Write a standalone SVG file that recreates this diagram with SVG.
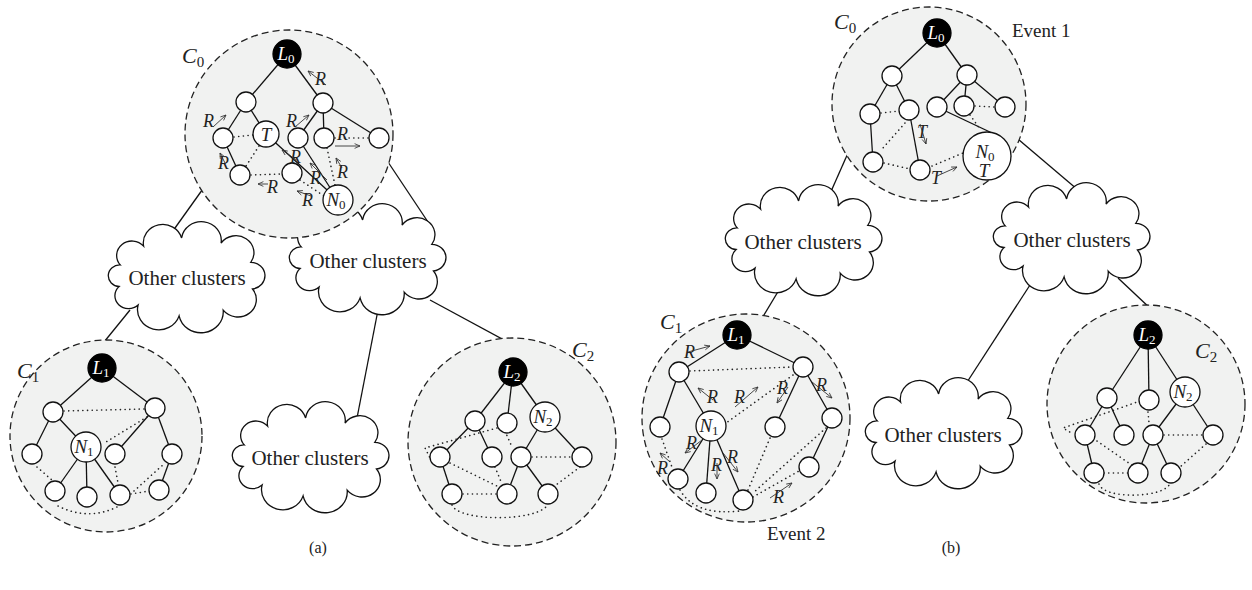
<svg xmlns="http://www.w3.org/2000/svg" xmlns:xlink="http://www.w3.org/1999/xlink" width="1252" height="590" viewBox="0 0 1252 590">
<style>
.clu{fill:#f1f2f1;stroke:#222;stroke-width:1.3;stroke-dasharray:7 4}
.e{stroke:#111;stroke-width:1.3;fill:none}
.d{stroke:#222;stroke-width:1.6;fill:none;stroke-dasharray:0.1 4.6;stroke-linecap:round}
.n{fill:#fff;stroke:#111;stroke-width:1.3}
.b{fill:#000;stroke:#000;stroke-width:1.3}
.cl{fill:#fff;stroke:#111;stroke-width:1.3}
.a{stroke:#333;stroke-width:0.9;fill:none;marker-end:url(#ah)}
text{font-family:"Liberation Serif",serif;fill:#222}
.it{font-style:italic;font-size:19px}
.c{font-style:italic;font-size:22px}
.cs{font-style:normal;font-size:15px}
.r{font-style:italic;font-size:18px}
.w{fill:#fff;font-style:italic;font-size:19px}
.sub{font-style:normal;font-size:13px}
.oc{font-size:21px;text-anchor:middle}
.ev{font-size:19px}
.cap{font-size:16px;text-anchor:middle}
.m{text-anchor:middle}
</style>
<defs>
<marker id="ah" viewBox="0 0 10 10" refX="9" refY="5" markerWidth="7.5" markerHeight="7.5" orient="auto"><path d="M1,1.5 L9,5 L1,8.5" fill="none" stroke="#333" stroke-width="1.2"/></marker>
<path id="cloud" d="M12.3,42.9 A15.3,14.5 0 0 1 35.6,24.1 A19.5,18.4 0 0 1 73.6,16 A19.9,18.8 0 0 1 113.1,21.1 A17.9,16.9 0 0 1 142.8,40.3 A14.2,13.4 0 0 1 144.5,67 A18.4,17.3 0 0 1 115.2,88.2 A22.3,21 0 0 1 71.1,93.9 A21.3,20.1 0 0 1 30.1,83.1 A13.7,12.9 0 0 1 11.1,64.5 A11.4,10.8 0 0 1 12.3,42.9 Z"/>
</defs>

<g id="connectors">
<line class="e" x1="210" y1="179" x2="165" y2="242"/>
<line class="e" x1="130" y1="310" x2="100" y2="347"/>
<line class="e" x1="382" y1="153" x2="432" y2="228"/>
<line class="e" x1="430" y1="300" x2="515" y2="346"/>
<line class="e" x1="378" y1="310" x2="357" y2="418"/>
<line class="e" x1="852" y1="144" x2="825" y2="205"/>
<line class="e" x1="782" y1="285" x2="758" y2="325"/>
<line class="e" x1="1012" y1="134" x2="1078" y2="190"/>
<line class="e" x1="1118" y1="278" x2="1152" y2="310"/>
<line class="e" x1="1030" y1="285" x2="960" y2="393"/>
</g>

<g id="cloud-a1"><use xlink:href="#cloud" href="#cloud" class="cl" x="108" y="222"/><text class="oc" x="187" y="285">Other clusters</text></g>
<g id="cloud-a2"><use xlink:href="#cloud" href="#cloud" class="cl" x="289" y="204"/><text class="oc" x="368" y="268">Other clusters</text></g>
<g id="cloud-a3"><use xlink:href="#cloud" href="#cloud" class="cl" x="232" y="402"/><text class="oc" x="310" y="465">Other clusters</text></g>
<g id="cloud-b1"><use xlink:href="#cloud" href="#cloud" class="cl" x="725" y="185"/><text class="oc" x="803" y="249">Other clusters</text></g>
<g id="cloud-b2"><use xlink:href="#cloud" href="#cloud" class="cl" x="993" y="183"/><text class="oc" x="1072" y="247">Other clusters</text></g>
<g id="cloud-b3"><use xlink:href="#cloud" href="#cloud" class="cl" x="865" y="378"/><text class="oc" x="943" y="442">Other clusters</text></g>

<!-- Panel (a) C0 -->
<g id="cluster-a-C0">
<circle class="clu" cx="289" cy="134" r="104"/>
<g class="e">
<line x1="287" y1="54" x2="246" y2="102"/><line x1="287" y1="54" x2="323" y2="103"/>
<line x1="246" y1="102" x2="223" y2="138"/><line x1="246" y1="102" x2="266" y2="134"/>
<line x1="323" y1="103" x2="298" y2="138"/><line x1="323" y1="103" x2="324" y2="138"/><line x1="323" y1="103" x2="379" y2="138"/>
<line x1="223" y1="138" x2="240" y2="175"/>
<line x1="266" y1="134" x2="338" y2="200"/><line x1="298" y1="138" x2="338" y2="200"/>
</g>
<g class="d">
<line x1="234" y1="137" x2="253" y2="135"/><line x1="259" y1="146" x2="246" y2="166"/>
<line x1="251" y1="175" x2="282" y2="174"/><line x1="300" y1="180" x2="324" y2="196"/>
<line x1="335" y1="138" x2="369" y2="138"/><line x1="327" y1="148" x2="335" y2="185"/>
</g>
<circle class="b" cx="287" cy="54" r="14"/><text class="w m" x="286" y="60">L<tspan class="sub" dy="3">0</tspan></text>
<circle class="n" cx="246" cy="102" r="10"/><circle class="n" cx="323" cy="103" r="10"/>
<circle class="n" cx="223" cy="138" r="10"/><circle class="n" cx="266" cy="134" r="13"/>
<circle class="n" cx="298" cy="138" r="10"/><circle class="n" cx="324" cy="138" r="10"/><circle class="n" cx="379" cy="138" r="10"/>
<circle class="n" cx="240" cy="175" r="10"/><circle class="n" cx="292" cy="173" r="10"/>
<circle class="n" cx="338" cy="200" r="15"/>
<text class="it m" x="266" y="141">T</text>
<text class="it m" x="336" y="206">N<tspan class="sub" dy="3">0</tspan></text>
<text class="c" x="182" y="63">C<tspan class="cs" dy="4">0</tspan></text>
<text class="r" x="315" y="85">R</text><line class="a" x1="326" y1="85" x2="308" y2="71"/>
<text class="r" x="203" y="127">R</text><line class="a" x1="213" y1="127" x2="226" y2="115"/>
<text class="r" x="286" y="127">R</text><line class="a" x1="295" y1="127" x2="309" y2="115"/>
<text class="r" x="337" y="140">R</text><line class="a" x1="335" y1="146" x2="360" y2="146"/>
<text class="r" x="218" y="169">R</text><line class="a" x1="225" y1="163" x2="220" y2="153"/>
<text class="r" x="290" y="163">R</text><line class="a" x1="298" y1="161" x2="282" y2="150"/>
<text class="r" x="267" y="193">R</text><line class="a" x1="268" y1="184" x2="258" y2="184"/>
<text class="r" x="310" y="184">R</text><line class="a" x1="327" y1="180" x2="310" y2="163"/>
<text class="r" x="337" y="178">R</text><line class="a" x1="342" y1="168" x2="336" y2="158"/>
<text class="r" x="302" y="206">R</text><line class="a" x1="311" y1="196" x2="297" y2="191"/>
</g>

<!-- Panel (a) C1 -->
<g id="cluster-a-C1">
<circle class="clu" cx="106" cy="436" r="96"/>
<g class="e">
<line x1="102" y1="368" x2="53" y2="412"/><line x1="102" y1="368" x2="155" y2="408"/>
<line x1="53" y1="412" x2="32" y2="454"/><line x1="53" y1="412" x2="86" y2="447"/>
<line x1="155" y1="408" x2="115" y2="454"/><line x1="155" y1="408" x2="172" y2="454"/>
<line x1="86" y1="447" x2="55" y2="491"/><line x1="86" y1="447" x2="87" y2="497"/><line x1="86" y1="447" x2="120" y2="495"/>
<line x1="172" y1="454" x2="159" y2="490"/>
</g>
<g class="d">
<line x1="64" y1="411" x2="145" y2="409"/><line x1="147" y1="417" x2="106" y2="442"/>
<line x1="37" y1="467" x2="53" y2="481"/><line x1="115" y1="467" x2="118" y2="483"/>
<line x1="134" y1="491" x2="165" y2="463"/><line x1="131" y1="494" x2="149" y2="491"/>
<path d="M58,506 Q88,521 117,507"/>
</g>
<circle class="b" cx="102" cy="368" r="14"/><text class="w m" x="101" y="374">L<tspan class="sub" dy="3">1</tspan></text>
<circle class="n" cx="53" cy="412" r="10"/><circle class="n" cx="155" cy="408" r="10"/>
<circle class="n" cx="32" cy="454" r="10"/><circle class="n" cx="86" cy="447" r="15"/>
<circle class="n" cx="115" cy="454" r="10"/><circle class="n" cx="172" cy="454" r="10"/>
<circle class="n" cx="55" cy="491" r="10"/><circle class="n" cx="87" cy="497" r="10"/>
<circle class="n" cx="120" cy="495" r="10"/><circle class="n" cx="159" cy="490" r="10"/>
<text class="it m" x="84" y="453">N<tspan class="sub" dy="3">1</tspan></text>
<text class="c" x="17" y="378">C<tspan class="cs" dy="4">1</tspan></text>
</g>

<!-- Panel (a) C2 -->
<g id="cluster-a-C2">
<circle class="clu" cx="512" cy="442" r="104"/>
<g class="e">
<line x1="513" y1="372" x2="475" y2="421"/><line x1="513" y1="372" x2="507" y2="423"/><line x1="513" y1="372" x2="545" y2="417"/>
<line x1="475" y1="421" x2="440" y2="457"/><line x1="475" y1="421" x2="492" y2="457"/>
<line x1="545" y1="417" x2="521" y2="457"/><line x1="545" y1="417" x2="582" y2="457"/>
<line x1="440" y1="457" x2="452" y2="494"/>
<line x1="521" y1="457" x2="507" y2="494"/><line x1="521" y1="457" x2="548" y2="494"/>
</g>
<g class="d">
<path d="M497,428 L425,448 L430,458"/>
<line x1="505" y1="431" x2="512" y2="447"/><line x1="532" y1="457" x2="572" y2="457"/>
<line x1="450" y1="463" x2="499" y2="487"/><line x1="495" y1="467" x2="502" y2="484"/>
<line x1="463" y1="494" x2="497" y2="494"/><line x1="580" y1="467" x2="556" y2="485"/>
<path d="M452,505 C458,522 540,522 548,504"/>
</g>
<circle class="b" cx="513" cy="372" r="14"/><text class="w m" x="512" y="378">L<tspan class="sub" dy="3">2</tspan></text>
<circle class="n" cx="475" cy="421" r="10"/><circle class="n" cx="507" cy="423" r="10"/><circle class="n" cx="545" cy="417" r="15"/>
<circle class="n" cx="440" cy="457" r="10"/><circle class="n" cx="492" cy="457" r="10"/>
<circle class="n" cx="521" cy="457" r="10"/><circle class="n" cx="582" cy="457" r="10"/>
<circle class="n" cx="452" cy="494" r="10"/><circle class="n" cx="507" cy="494" r="10"/><circle class="n" cx="548" cy="494" r="10"/>
<text class="it m" x="543" y="423">N<tspan class="sub" dy="3">2</tspan></text>
<text class="c" x="572" y="357">C<tspan class="cs" dy="4">2</tspan></text>
</g>

<!-- Panel (b) C0 -->
<g id="cluster-b-C0">
<circle class="clu" cx="929" cy="104" r="97"/>
<g class="e">
<line x1="937" y1="33" x2="892" y2="76"/><line x1="937" y1="33" x2="967" y2="75"/>
<line x1="892" y1="76" x2="870" y2="114"/><line x1="892" y1="76" x2="909" y2="110"/>
<line x1="967" y1="75" x2="937" y2="107"/><line x1="967" y1="75" x2="964" y2="106"/><line x1="967" y1="75" x2="1005" y2="107"/>
<line x1="870" y1="114" x2="873" y2="162"/><line x1="909" y1="110" x2="920" y2="170"/>
<line x1="937" y1="107" x2="992" y2="133"/>
</g>
<g class="d">
<line x1="881" y1="113" x2="899" y2="111"/><line x1="975" y1="106" x2="995" y2="107"/>
<line x1="970" y1="115" x2="980" y2="129"/><line x1="905" y1="123" x2="883" y2="148"/>
<line x1="884" y1="163" x2="910" y2="169"/><line x1="932" y1="166" x2="963" y2="153"/>
</g>
<circle class="b" cx="937" cy="33" r="14"/><text class="w m" x="936" y="39">L<tspan class="sub" dy="3">0</tspan></text>
<circle class="n" cx="892" cy="76" r="10"/><circle class="n" cx="967" cy="75" r="10"/>
<circle class="n" cx="870" cy="114" r="10"/><circle class="n" cx="909" cy="110" r="10"/>
<circle class="n" cx="937" cy="107" r="10"/><circle class="n" cx="964" cy="106" r="10"/><circle class="n" cx="1005" cy="107" r="10"/>
<circle class="n" cx="873" cy="162" r="10"/><circle class="n" cx="920" cy="170" r="10"/>
<circle class="n" cx="987" cy="156" r="24"/>
<text class="it m" x="985" y="158">N<tspan class="sub" dy="3">0</tspan></text>
<text class="it m" x="984" y="177">T</text>
<text class="r" x="917" y="138">T</text><line class="a" x1="920" y1="124" x2="926" y2="144"/>
<text class="r" x="931" y="184">T</text><line class="a" x1="937" y1="176" x2="957" y2="167"/>
<text class="c" x="834" y="29">C<tspan class="cs" dy="4">0</tspan></text>
<text class="ev" x="1012" y="37">Event 1</text>
</g>

<!-- Panel (b) C1 -->
<g id="cluster-b-C1">
<circle class="clu" cx="746" cy="418" r="104"/>
<g class="e">
<line x1="737" y1="335" x2="679" y2="372"/><line x1="737" y1="335" x2="803" y2="367"/>
<line x1="679" y1="372" x2="660" y2="427"/><line x1="679" y1="372" x2="711" y2="426"/>
<line x1="803" y1="367" x2="775" y2="427"/><line x1="803" y1="367" x2="832" y2="418"/>
<line x1="711" y1="426" x2="678" y2="479"/><line x1="711" y1="426" x2="706" y2="493"/><line x1="711" y1="426" x2="743" y2="500"/>
<line x1="832" y1="418" x2="809" y2="467"/>
</g>
<g class="d">
<line x1="690" y1="371" x2="793" y2="367"/><line x1="793" y1="375" x2="726" y2="423"/>
<line x1="662" y1="439" x2="673" y2="470"/><line x1="770" y1="438" x2="748" y2="490"/>
<line x1="826" y1="428" x2="753" y2="493"/><line x1="753" y1="497" x2="799" y2="471"/>
<path d="M680,490 Q695,516 740,511"/>
</g>
<circle class="b" cx="737" cy="335" r="14"/><text class="w m" x="736" y="341">L<tspan class="sub" dy="3">1</tspan></text>
<circle class="n" cx="679" cy="372" r="10"/><circle class="n" cx="803" cy="367" r="10"/>
<circle class="n" cx="660" cy="427" r="10"/><circle class="n" cx="711" cy="426" r="15"/>
<circle class="n" cx="775" cy="427" r="10"/><circle class="n" cx="832" cy="418" r="10"/>
<circle class="n" cx="678" cy="479" r="10"/><circle class="n" cx="706" cy="493" r="10"/>
<circle class="n" cx="743" cy="500" r="10"/><circle class="n" cx="809" cy="467" r="10"/>
<text class="it m" x="709" y="432">N<tspan class="sub" dy="3">1</tspan></text>
<text class="c" x="660" y="329">C<tspan class="cs" dy="4">1</tspan></text>
<text class="r" x="684" y="358">R</text><line class="a" x1="688" y1="352" x2="710" y2="346"/>
<text class="r" x="707" y="403">R</text><line class="a" x1="713" y1="400" x2="698" y2="388"/>
<text class="r" x="734" y="403">R</text><line class="a" x1="735" y1="407" x2="758" y2="387"/>
<text class="r" x="777" y="394">R</text><line class="a" x1="788" y1="387" x2="777" y2="403"/>
<text class="r" x="816" y="391">R</text><line class="a" x1="812" y1="382" x2="832" y2="398"/>
<text class="r" x="686" y="449">R</text><line class="a" x1="702" y1="440" x2="685" y2="453"/>
<text class="r" x="657" y="474">R</text><line class="a" x1="670" y1="462" x2="660" y2="453"/>
<text class="r" x="711" y="471">R</text><line class="a" x1="717" y1="463" x2="717" y2="479"/>
<text class="r" x="727" y="463">R</text><line class="a" x1="723" y1="453" x2="738" y2="472"/>
<text class="r" x="773" y="503">R</text><line class="a" x1="770" y1="498" x2="792" y2="483"/>
<text class="ev" x="767" y="540">Event 2</text>
</g>

<!-- Panel (b) C2 -->
<g id="cluster-b-C2">
<circle class="clu" cx="1146" cy="404" r="99"/>
<g class="e">
<line x1="1148" y1="335" x2="1107" y2="398"/><line x1="1148" y1="335" x2="1149" y2="400"/><line x1="1148" y1="335" x2="1185" y2="392"/>
<line x1="1107" y1="398" x2="1085" y2="435"/><line x1="1107" y1="398" x2="1124" y2="435"/>
<line x1="1185" y1="392" x2="1153" y2="435"/><line x1="1185" y1="392" x2="1213" y2="435"/>
<line x1="1085" y1="435" x2="1094" y2="473"/>
<line x1="1153" y1="435" x2="1138" y2="473"/><line x1="1153" y1="435" x2="1171" y2="473"/>
</g>
<g class="d">
<path d="M1140,401 L1063,428 L1073,434"/>
<line x1="1148" y1="412" x2="1149" y2="423"/><line x1="1164" y1="435" x2="1203" y2="435"/>
<line x1="1097" y1="441" x2="1133" y2="466"/><line x1="1104" y1="473" x2="1128" y2="473"/>
<line x1="1206" y1="444" x2="1180" y2="467"/>
<path d="M1099,484 C1104,500 1166,498 1170,483"/>
</g>
<circle class="b" cx="1148" cy="335" r="14"/><text class="w m" x="1147" y="341">L<tspan class="sub" dy="3">2</tspan></text>
<circle class="n" cx="1107" cy="398" r="10"/><circle class="n" cx="1149" cy="400" r="10"/><circle class="n" cx="1185" cy="392" r="15"/>
<circle class="n" cx="1085" cy="435" r="10"/><circle class="n" cx="1124" cy="435" r="10"/>
<circle class="n" cx="1153" cy="435" r="10"/><circle class="n" cx="1213" cy="435" r="10"/>
<circle class="n" cx="1094" cy="473" r="10"/><circle class="n" cx="1138" cy="473" r="10"/><circle class="n" cx="1171" cy="473" r="10"/>
<text class="it m" x="1183" y="398">N<tspan class="sub" dy="3">2</tspan></text>
<text class="c" x="1195" y="358">C<tspan class="cs" dy="4">2</tspan></text>
</g>

<text class="cap" x="318" y="553">(a)</text>
<text class="cap" x="951" y="553">(b)</text>
</svg>
